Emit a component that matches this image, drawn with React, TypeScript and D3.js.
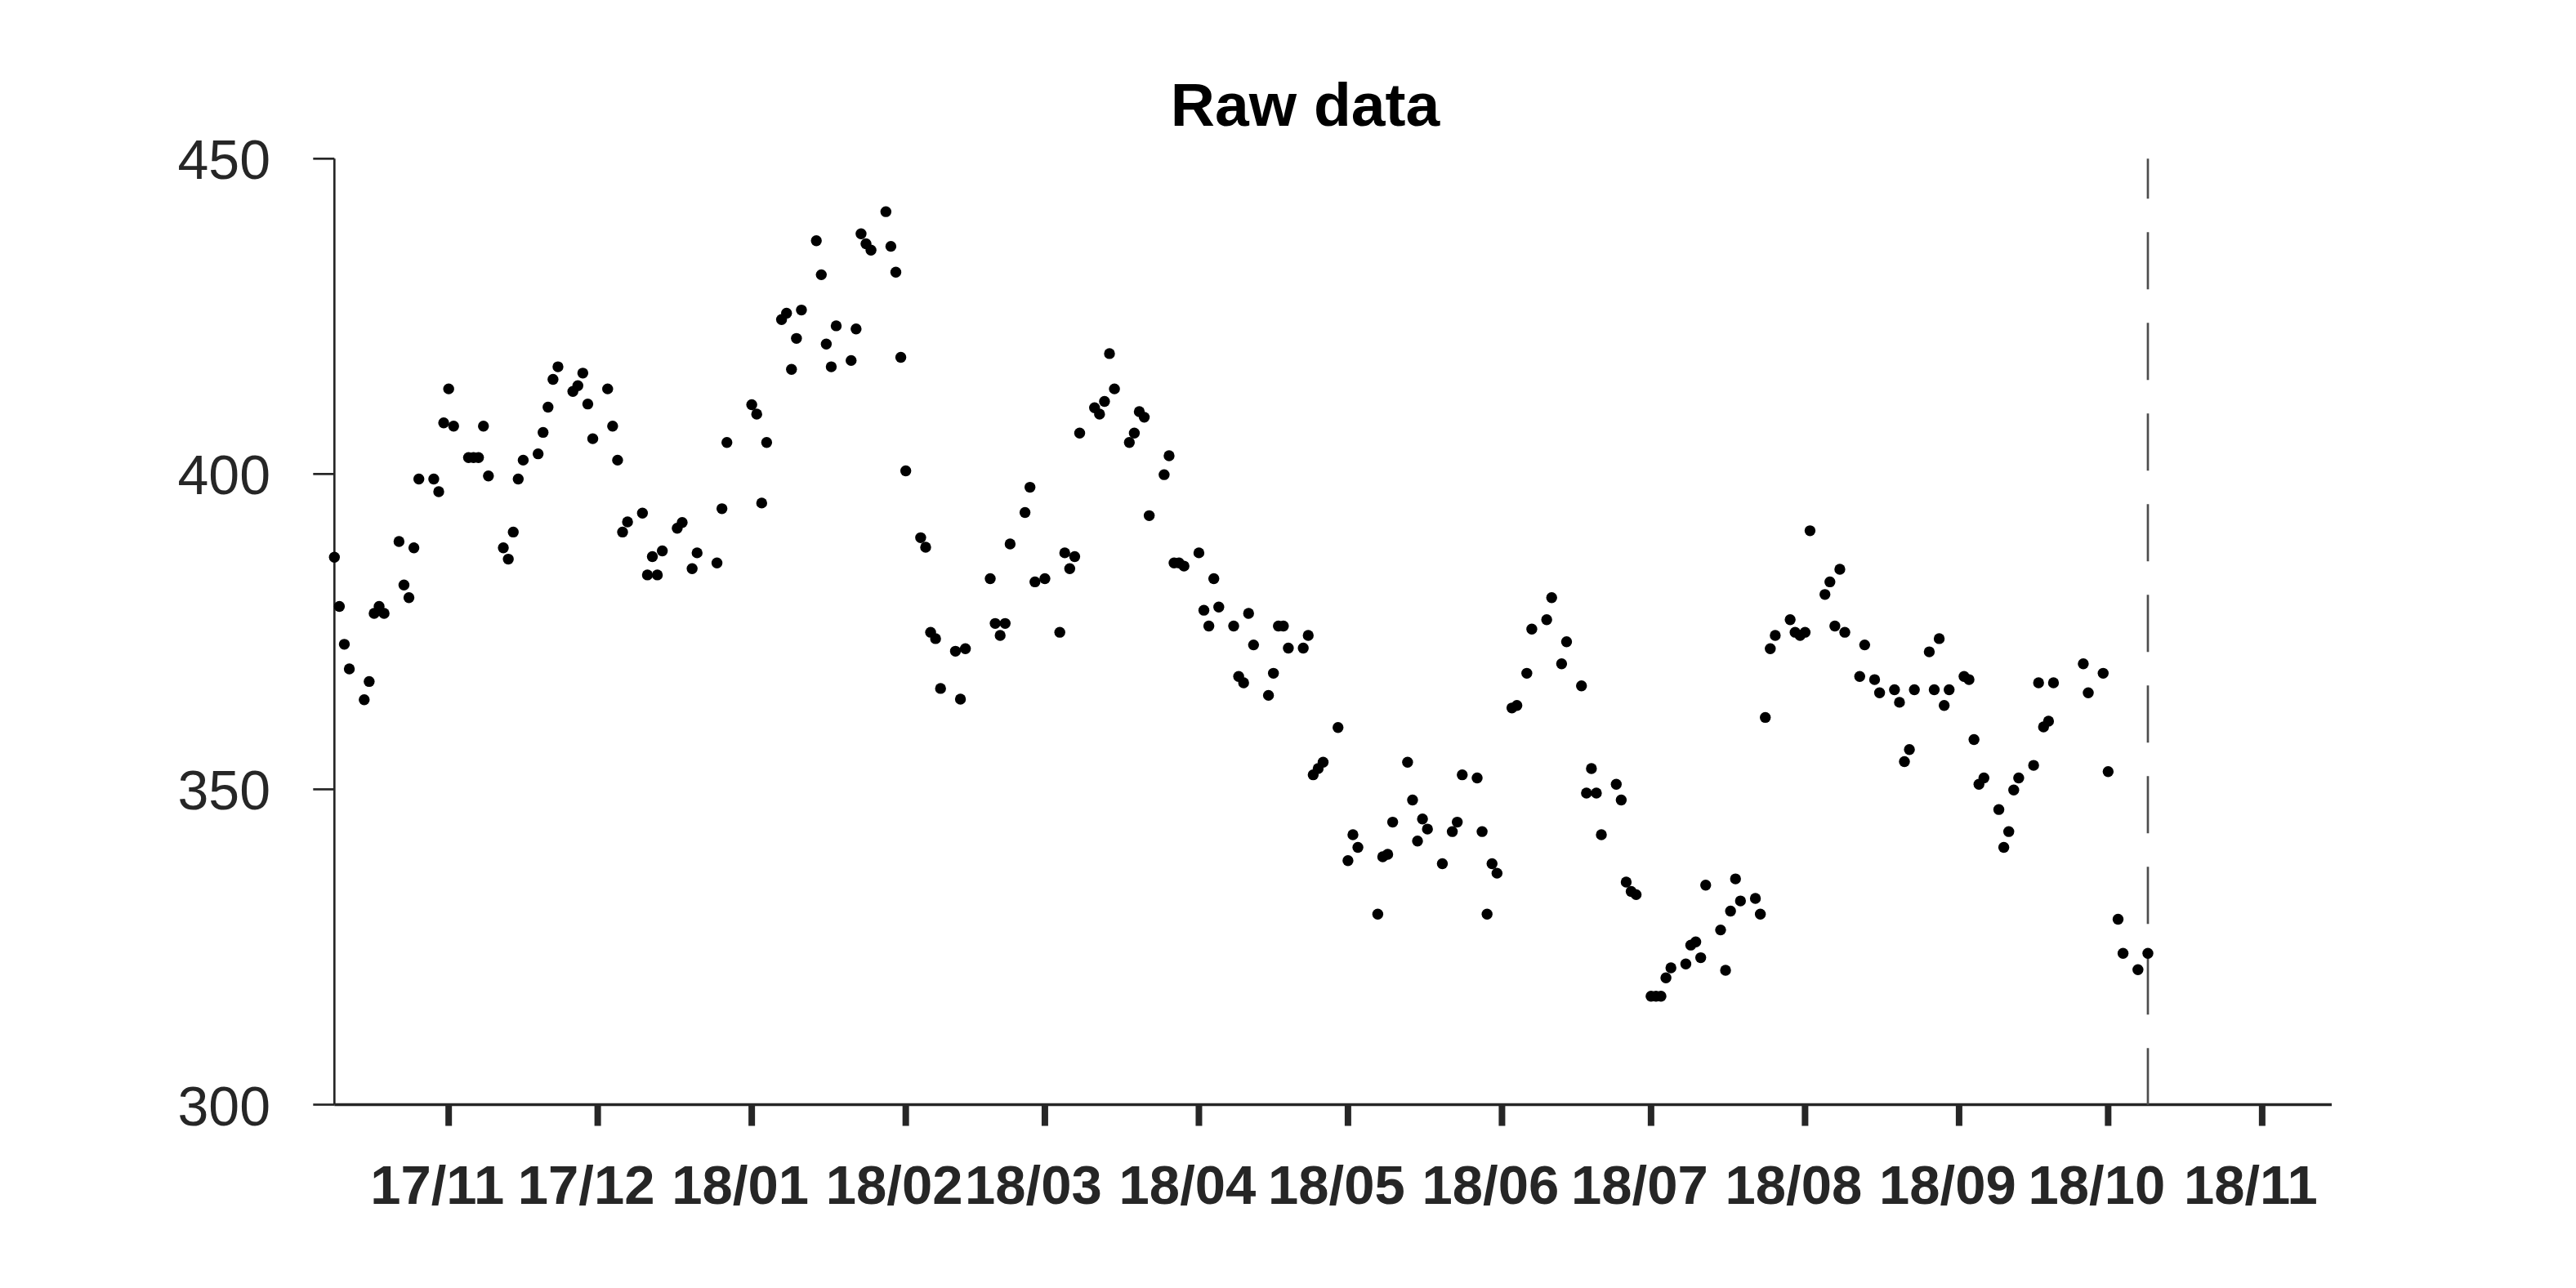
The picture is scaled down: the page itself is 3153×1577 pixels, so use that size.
import React from "react";
import * as d3 from "d3";

const chartTitle = "Raw data";

const dates: string[] = [
  "2017-10-09","2017-10-10","2017-10-11","2017-10-12","2017-10-15","2017-10-16","2017-10-17","2017-10-18","2017-10-19",
  "2017-10-22","2017-10-23","2017-10-24","2017-10-25","2017-10-26","2017-10-29","2017-10-30","2017-10-31",
  "2017-11-01","2017-11-02","2017-11-05","2017-11-06","2017-11-07","2017-11-08","2017-11-09","2017-11-12","2017-11-13",
  "2017-11-14","2017-11-15","2017-11-16","2017-11-19","2017-11-20","2017-11-21","2017-11-22","2017-11-23","2017-11-26",
  "2017-11-27","2017-11-28","2017-11-29","2017-11-30",
  "2017-12-03","2017-12-04","2017-12-05","2017-12-06","2017-12-07","2017-12-10","2017-12-11","2017-12-12","2017-12-13",
  "2017-12-14","2017-12-17","2017-12-18","2017-12-20","2017-12-21","2017-12-25","2017-12-26","2017-12-27",
  "2018-01-01","2018-01-02","2018-01-03","2018-01-04","2018-01-07","2018-01-08","2018-01-09","2018-01-10","2018-01-11",
  "2018-01-14","2018-01-15","2018-01-16","2018-01-17","2018-01-18","2018-01-21","2018-01-22","2018-01-23","2018-01-24",
  "2018-01-25","2018-01-28","2018-01-29","2018-01-30","2018-01-31",
  "2018-02-01","2018-02-04","2018-02-05","2018-02-06","2018-02-07","2018-02-08","2018-02-11","2018-02-12","2018-02-13",
  "2018-02-18","2018-02-19","2018-02-20","2018-02-21","2018-02-22","2018-02-25","2018-02-26","2018-02-27",
  "2018-03-01","2018-03-04","2018-03-05","2018-03-06","2018-03-07","2018-03-08","2018-03-11","2018-03-12","2018-03-13",
  "2018-03-14","2018-03-15","2018-03-18","2018-03-19","2018-03-20","2018-03-21","2018-03-22","2018-03-25","2018-03-26",
  "2018-03-27","2018-03-28","2018-03-29",
  "2018-04-01","2018-04-02","2018-04-03","2018-04-04","2018-04-05","2018-04-08","2018-04-09","2018-04-10","2018-04-11",
  "2018-04-12","2018-04-15","2018-04-16","2018-04-17","2018-04-18","2018-04-19","2018-04-22","2018-04-23","2018-04-24",
  "2018-04-25","2018-04-26","2018-04-29",
  "2018-05-01","2018-05-02","2018-05-03","2018-05-07","2018-05-08","2018-05-09","2018-05-10","2018-05-13","2018-05-14",
  "2018-05-15","2018-05-16","2018-05-17","2018-05-20","2018-05-22","2018-05-23","2018-05-24","2018-05-27","2018-05-28",
  "2018-05-29","2018-05-30","2018-05-31",
  "2018-06-03","2018-06-04","2018-06-06","2018-06-07","2018-06-10","2018-06-11","2018-06-13","2018-06-14","2018-06-17",
  "2018-06-18","2018-06-19","2018-06-20","2018-06-21","2018-06-24","2018-06-25","2018-06-26","2018-06-27","2018-06-28",
  "2018-07-01","2018-07-02","2018-07-03","2018-07-04","2018-07-05","2018-07-08","2018-07-09","2018-07-10","2018-07-11",
  "2018-07-12","2018-07-15","2018-07-16","2018-07-17","2018-07-18","2018-07-19","2018-07-22","2018-07-23","2018-07-24",
  "2018-07-25","2018-07-26","2018-07-29","2018-07-30","2018-07-31",
  "2018-08-01","2018-08-02","2018-08-05","2018-08-06","2018-08-07","2018-08-08","2018-08-09","2018-08-12","2018-08-13",
  "2018-08-15","2018-08-16","2018-08-19","2018-08-20","2018-08-21","2018-08-22","2018-08-23","2018-08-26","2018-08-27",
  "2018-08-28","2018-08-29","2018-08-30",
  "2018-09-02","2018-09-03","2018-09-04","2018-09-05","2018-09-06","2018-09-09","2018-09-10","2018-09-11","2018-09-12",
  "2018-09-13","2018-09-16","2018-09-17","2018-09-18","2018-09-19","2018-09-20","2018-09-26","2018-09-27","2018-09-30",
  "2018-10-01","2018-10-03","2018-10-04","2018-10-07","2018-10-09",
];

const prices: number[] = [
  386.8,379.0,373.0,369.1,364.2,367.1,377.9,379.0,377.9,
  389.3,382.4,380.4,388.3,399.2,399.2,397.2,408.1,
  413.5,407.6,402.6,402.6,402.6,407.6,399.7,388.3,386.5,
  390.8,399.2,402.2,403.2,406.6,410.6,415.0,417.0,413.1,
  414.0,416.0,411.1,405.6,
  413.5,407.6,402.2,390.8,392.4,393.8,384.0,386.9,384.0,
  387.8,391.4,392.3,385.0,387.5,385.9,394.5,405.0,
  411.0,409.5,395.4,405.0,424.5,425.5,416.6,421.5,426.0,
  437.0,431.6,420.6,417.0,423.5,418.0,423.0,438.1,436.5,
  435.5,441.6,436.1,432.0,418.5,
  400.5,389.9,388.4,374.9,373.9,366.0,371.9,364.3,372.3,
  383.4,376.3,374.4,376.3,388.9,393.9,397.9,382.9,
  383.4,374.9,387.5,385.0,386.9,406.5,410.5,409.5,411.5,
  419.1,413.5,405.0,406.5,409.9,409.0,393.4,399.9,402.9,
  385.9,385.9,385.4,
  387.5,378.4,375.9,383.4,378.9,375.9,367.9,366.9,377.9,
  372.9,364.9,368.4,375.9,375.9,372.4,372.4,374.4,352.3,
  353.3,354.3,359.8,
  338.7,342.8,340.8,330.2,339.3,339.7,344.8,354.3,348.3,
  341.8,345.3,343.7,338.2,343.3,344.8,352.3,351.8,343.3,
  330.2,338.2,336.7,
  362.9,363.3,368.4,375.4,376.9,380.4,369.9,373.4,366.4,
  349.4,353.3,349.4,342.8,350.8,348.3,335.3,333.8,333.3,
  317.2,317.2,317.2,320.1,321.7,322.3,325.3,325.8,323.3,
  334.8,327.7,321.3,330.7,335.8,332.3,332.7,330.2,361.4,
  372.3,374.4,376.9,374.9,374.4,
  374.9,391.0,380.9,382.9,375.9,384.9,374.9,367.9,372.9,
  367.4,365.3,365.8,363.8,354.4,356.3,365.8,371.8,365.8,
  373.9,363.3,365.8,
  367.9,367.4,357.9,350.8,351.8,346.8,340.8,343.3,349.9,
  351.8,353.8,366.9,359.9,360.8,366.9,369.9,365.3,368.4,
  352.8,329.4,324.0,321.4,324.0,
];

const yTicks: number[] = [300, 350, 400, 450];

const monthTicks: string[] = [
  "2017-11-01","2017-12-01","2018-01-01","2018-02-01","2018-03-01","2018-04-01","2018-05-01",
  "2018-06-01","2018-07-01","2018-08-01","2018-09-01","2018-10-01","2018-11-01",
];
const monthLabels: string[] = [
  "17/11","17/12","18/01","18/02","18/03","18/04","18/05","18/06","18/07","18/08","18/09","18/10","18/11",
];

const xDomain: string[] = ["2017-10-09", "2018-11-15"];
const yDomain: number[] = [300, 450];
const markerDate = "2018-10-09";

const FONT = "'Liberation Sans', Arial, Helvetica, sans-serif";
const AXIS = "#262626";

export default function App() {
  const W = 3153;
  const H = 1577;
  const parse = d3.utcParse("%Y-%m-%d");
  const left = 409.3;
  const right = 2854;
  const top = 194.3;
  const bottom = 1352.5;

  const x = d3
    .scaleUtc()
    .domain([parse(xDomain[0]) as Date, parse(xDomain[1]) as Date])
    .range([left, right]);
  const y = d3.scaleLinear().domain(yDomain).range([bottom, top]);

  const points = dates.map((d, i) => ({ date: parse(d) as Date, v: prices[i] }));
  const mx = x(parse(markerDate) as Date);

  return (
    <svg
      width={W}
      height={H}
      viewBox={`0 0 ${W} ${H}`}
      style={{ position: "absolute", left: 0, top: 0, display: "block", background: "#fff" }}
    >
      <rect x={0} y={0} width={W} height={H} fill="#fff" />
      <text
        x={1597.5}
        y={154}
        textAnchor="middle"
        fontFamily={FONT}
        fontWeight="bold"
        fontSize={75}
        fill="#000"
      >
        {chartTitle}
      </text>

      {/* y axis */}
      <line x1={left} x2={left} y1={top} y2={bottom} stroke={AXIS} strokeWidth={2.7} />
      {yTicks.map((t) => (
        <g key={t}>
          <line x1={left - 26} x2={left} y1={y(t)} y2={y(t)} stroke={AXIS} strokeWidth={2.7} />
          <text
            x={331}
            y={y(t) + 25}
            textAnchor="end"
            fontFamily={FONT}
            fontSize={68}
            fill={AXIS}
          >
            {t}
          </text>
        </g>
      ))}

      {/* x axis */}
      <line x1={left} x2={right} y1={bottom} y2={bottom} stroke={AXIS} strokeWidth={3.3} />
      {monthTicks.map((m, i) => {
        const tx = x(parse(m) as Date);
        return (
          <g key={m}>
            <line x1={tx} x2={tx} y1={bottom} y2={bottom + 26} stroke={AXIS} strokeWidth={8} />
            <text
              x={tx - 14}
              y={1474}
              textAnchor="middle"
              fontFamily={FONT}
              fontWeight="bold"
              fontSize={67}
              fill={AXIS}
            >
              {monthLabels[i]}
            </text>
          </g>
        );
      })}

      {/* dashed marker line */}
      <line
        x1={mx}
        x2={mx}
        y1={top}
        y2={bottom}
        stroke="#4d4d4d"
        strokeWidth={2.7}
        strokeDasharray="70 41"
        strokeDashoffset={21}
      />

      {/* data points */}
      {points.map((p, i) => (
        <circle key={i} cx={x(p.date)} cy={y(p.v)} r={6.7} fill="#000" />
      ))}
    </svg>
  );
}
